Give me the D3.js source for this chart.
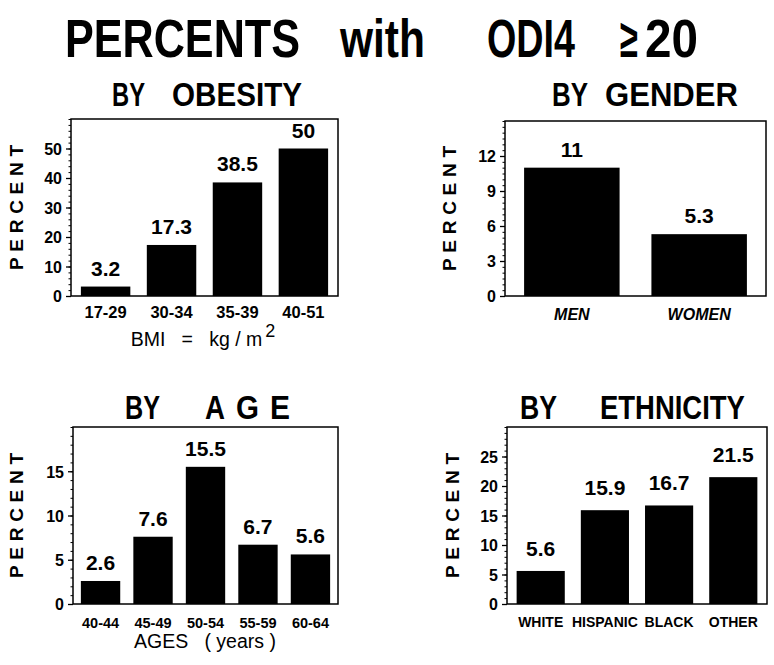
<!DOCTYPE html>
<html>
<head>
<meta charset="utf-8">
<script src="https://cdn.jsdelivr.net/npm/d3@7"></script>
<style>
  body { margin: 0; background: #fff; }
  text { font-family: "Liberation Sans", Arial, sans-serif; fill: #000; }
</style>
</head>
<body>
<div id="chart"></div>
<script>
// Values
const obesityCats = ["17-29", "30-34", "35-39", "40-51"];
const obesityVals = [3.2, 17.3, 38.5, 50];
const obesityTicks = [0, 10, 20, 30, 40, 50];

const genderCats = ["MEN", "WOMEN"];
const genderVals = [11, 5.3];
const genderTicks = [0, 3, 6, 9, 12];

const ageCats = ["40-44", "45-49", "50-54", "55-59", "60-64"];
const ageVals = [2.6, 7.6, 15.5, 6.7, 5.6];
const ageTicks = [0, 5, 10, 15];

const ethCats = ["WHITE", "HISPANIC", "BLACK", "OTHER"];
const ethVals = [5.6, 15.9, 16.7, 21.5];
const ethTicks = [0, 5, 10, 15, 20, 25];

let svg = d3.select("#chart")
    .append("svg")
    .attr("width", 774)
    .attr("height", 665);

svg.append("rect").attr("width", 774).attr("height", 665).attr("fill", "#fff");

// condensed heading words: draw, measure, then squeeze to the width seen in the figure
function word(txt, x, y, w, size) {
    let t = svg.append("text")
        .attr("font-size", size)
        .attr("font-weight", "bold")
        .text(txt);
    let w0 = t.node().getComputedTextLength();
    t.attr("transform", `translate(${x}, ${y}) scale(${w / w0}, 1)`);
}

// main title
word("PERCENTS", 65, 57, 235, 54);
word("with", 340, 57, 85, 54);
word("ODI4", 487, 57, 88, 54);
word("\u2265", 620, 57, 18, 54);
word("20", 645, 57, 53, 54);

// panel titles
word("BY", 112, 106, 33, 34);
word("OBESITY", 172, 106, 130, 34);
word("BY", 552, 106, 36, 34);
word("GENDER", 605, 106, 133, 34);
word("BY", 125, 419, 35, 34);
word("A", 205, 419, 20, 34);
word("G", 236, 419, 23, 34);
word("E", 270, 419, 20, 34);
word("BY", 520, 419, 37, 34);
word("ETHNICITY", 600, 419, 145, 34);

function drawPanel(p) {
    let g = svg.append("g");

    let xScale = d3.scaleBand()
        .domain(p.cats)
        .range([p.left, p.right])
        .paddingInner(0.25)
        .paddingOuter(0.15);

    let yScale = d3.scaleLinear()
        .domain([0, p.max])
        .range([p.bottom, p.top]);

    // bars
    g.append("g").selectAll("rect")
        .data(p.vals)
        .enter()
        .append("rect")
        .attr("x", (d, i) => xScale(p.cats[i]))
        .attr("y", d => yScale(d))
        .attr("width", xScale.bandwidth())
        .attr("height", d => yScale(0) - yScale(d))
        .attr("fill", "#000");

    // box round the plot
    g.append("rect")
        .attr("x", p.left)
        .attr("y", p.top)
        .attr("width", p.right - p.left)
        .attr("height", p.bottom - p.top)
        .attr("fill", "none")
        .attr("stroke", "#000")
        .attr("stroke-width", 1.5);

    // minor ticks
    g.append("g")
        .attr("transform", `translate(${p.left}, 0)`)
        .call(d3.axisLeft(yScale)
            .tickValues(d3.range(0, p.max + 1e-9, p.minor))
            .tickSize(2.5)
            .tickFormat(""))
        .call(a => a.select(".domain").remove());

    // major ticks
    let yAxis = g.append("g")
        .attr("transform", `translate(${p.left}, 0)`)
        .call(d3.axisLeft(yScale).tickValues(p.ticks).tickSize(5).tickPadding(4));
    yAxis.select(".domain").remove();
    yAxis.selectAll("line").attr("stroke-width", 1.3);
    yAxis.attr("font-family", null);
    yAxis.selectAll("text")
        .attr("font-size", 16)
        .attr("font-weight", "bold")
        .attr("dy", "0.36em");

    // category labels
    let xAxis = g.append("g")
        .attr("transform", `translate(0, ${p.bottom})`)
        .call(d3.axisBottom(xScale).tickSize(0));
    xAxis.select(".domain").remove();
    xAxis.attr("font-family", null);
    xAxis.selectAll("text")
        .attr("y", p.catY - p.bottom)
        .attr("dy", 0)
        .attr("font-size", p.catSize)
        .attr("font-weight", "bold")
        .attr("font-style", p.italic ? "italic" : null);

    // value labels
    g.append("g").selectAll("text")
        .data(p.vals)
        .enter()
        .append("text")
        .attr("x", (d, i) => xScale(p.cats[i]) + xScale.bandwidth() / 2)
        .attr("y", d => yScale(d) - p.labelGap)
        .attr("text-anchor", "middle")
        .attr("font-size", 21)
        .attr("font-weight", "bold")
        .text(d => d);

    // PERCENT
    let cy = (p.top + p.bottom) / 2;
    g.append("text")
        .attr("transform", `translate(${p.pctX}, ${cy}) rotate(-90)`)
        .attr("text-anchor", "middle")
        .attr("font-size", 19)
        .attr("font-weight", "bold")
        .attr("textLength", 125)
        .attr("lengthAdjust", "spacing")
        .text("PERCENT");
}

drawPanel({ cats: obesityCats, vals: obesityVals, ticks: obesityTicks, max: 60, minor: 2,
    left: 71, right: 338, top: 119, bottom: 296, catY: 318, catSize: 16.5, labelGap: 11, pctX: 23 });
drawPanel({ cats: genderCats, vals: genderVals, ticks: genderTicks, max: 15, minor: 0.5,
    left: 505, right: 766, top: 121, bottom: 296, catY: 320, catSize: 16, italic: true, labelGap: 11, pctX: 456 });
drawPanel({ cats: ageCats, vals: ageVals, ticks: ageTicks, max: 20, minor: 1,
    left: 73, right: 338, top: 427, bottom: 604, catY: 628, catSize: 14.5, labelGap: 11, pctX: 23 });
drawPanel({ cats: ethCats, vals: ethVals, ticks: ethTicks, max: 30, minor: 1,
    left: 507, right: 767, top: 427, bottom: 604, catY: 627, catSize: 14, labelGap: 15, pctX: 459 });

// x axis titles
svg.append("text")
    .attr("x", 203)
    .attr("y", 346)
    .attr("text-anchor", "middle")
    .attr("font-size", 19.5)
    .style("white-space", "pre")
    .text("BMI   =   kg / m")
    .append("tspan")
    .attr("dx", 3)
    .attr("dy", -9)
    .attr("font-size", 18)
    .text("2");

svg.append("text")
    .attr("x", 205)
    .attr("y", 648)
    .attr("text-anchor", "middle")
    .attr("font-size", 19.5)
    .style("white-space", "pre")
    .text("AGES   ( years )");
</script>
</body>
</html>
